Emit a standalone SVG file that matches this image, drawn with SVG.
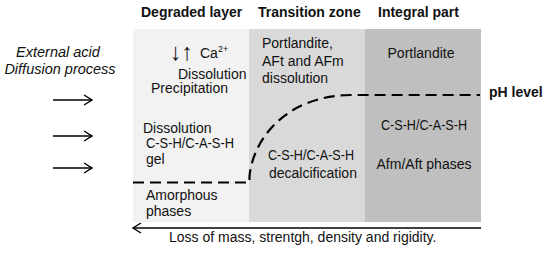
<svg xmlns="http://www.w3.org/2000/svg" width="550" height="253" viewBox="0 0 550 253">
<defs>
<marker id="chev" markerUnits="userSpaceOnUse" viewBox="0 0 10 12" refX="9" refY="6" markerWidth="10" markerHeight="12" orient="auto-start-reverse">
<path d="M1,1 L9,6 L1,11" fill="none" stroke="#000" stroke-width="1.4"/>
</marker>
</defs>
<style>
text{font-family:"Liberation Sans",Arial,sans-serif;font-size:14px;fill:#111}
.h{font-weight:bold}
.i{font-style:italic;font-size:14.5px}
.m{text-anchor:middle}
.arr{stroke:#000;stroke-width:1.5;fill:none}
</style>
<rect width="550" height="253" fill="#fff"/>
<g id="degraded-layer">
<rect x="133" y="29" width="116" height="193" fill="#f2f2f2"/>
<text class="h" x="141" y="17">Degraded layer</text>
<text x="170" y="60" textLength="23" lengthAdjust="spacingAndGlyphs" style="font-size:24px">↓↑</text>
<text x="200" y="58">Ca<tspan font-size="9" dy="-6">2+</tspan></text>
<text x="178" y="79">Dissolution</text>
<text x="151" y="93">Precipitation</text>
<text x="143" y="133">Dissolution</text>
<text x="146" y="148" textLength="88" lengthAdjust="spacingAndGlyphs">C-S-H/C-A-S-H</text>
<text x="146" y="164">gel</text>
<text x="146" y="200">Amorphous</text>
<text x="146" y="216">phases</text>
</g>
<g id="transition-zone">
<rect x="249" y="29" width="116" height="193" fill="#d9d9d9"/>
<text class="h" x="258" y="17">Transition zone</text>
<text x="262" y="48">Portlandite,</text>
<text x="262" y="66">AFt and AFm</text>
<text x="262" y="83">dissolution</text>
<text x="268" y="160" textLength="86" lengthAdjust="spacingAndGlyphs">C-S-H/C-A-S-H</text>
<text x="269" y="178">decalcification</text>
</g>
<g id="integral-part">
<rect x="365" y="29" width="116" height="193" fill="#bfbfbf"/>
<text class="h" x="378" y="17">Integral part</text>
<text class="m" x="421" y="58">Portlandite</text>
<text x="381" y="130" textLength="86" lengthAdjust="spacingAndGlyphs">C-S-H/C-A-S-H</text>
<text class="m" x="424" y="169">Afm/Aft phases</text>
</g>
<g id="external">
<text class="i m" x="58" y="57">External acid</text>
<text class="i m" x="60" y="74">Diffusion process</text>
</g>
<g id="ph-label">
<text class="h" x="489" y="97">pH level</text>
</g>
<g id="loss-label">
<text x="169" y="242">Loss of mass, strentgh, density and rigidity.</text>
</g>
<g id="connectors">
<line class="arr" x1="53" y1="100" x2="92" y2="100" marker-end="url(#chev)"/>
<line class="arr" x1="53" y1="136" x2="92" y2="136" marker-end="url(#chev)"/>
<line class="arr" x1="53" y1="168" x2="92" y2="168" marker-end="url(#chev)"/>
<path d="M133,182.5 L249.5,182.5 L249.5,176 C253,140 285,96 350,95 L480,95" fill="none" stroke="#000" stroke-width="2.2" stroke-dasharray="11,6"/>
<line class="arr" x1="133" y1="228" x2="481" y2="228" marker-start="url(#chev)"/>
</g>
</svg>
